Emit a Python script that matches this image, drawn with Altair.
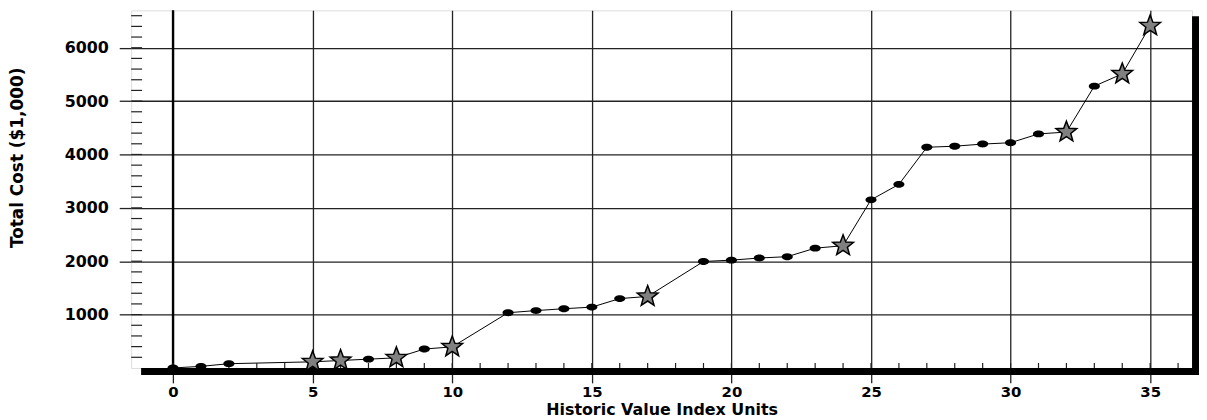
import altair as alt
import pandas as pd

# ---- data ----
x_units = [0, 1, 2, 5, 6, 7, 8, 9, 10, 12, 13, 14, 15, 16, 17, 19, 20, 21, 22, 23,
           24, 25, 26, 27, 28, 29, 30, 31, 32, 33, 34, 35]
total_cost = [0, 30, 80, 115, 140, 165, 190, 355, 395, 1035, 1075, 1110, 1140, 1300, 1340,
              1995, 2020, 2060, 2085, 2245, 2290, 3150, 3440, 4135, 4155, 4195, 4220, 4385,
              4420, 5280, 5510, 6410]
marker_kind = ["dot", "dot", "dot", "star", "star", "dot", "star", "dot", "star",
               "dot", "dot", "dot", "dot", "dot", "star",
               "dot", "dot", "dot", "dot", "dot", "star",
               "dot", "dot", "dot", "dot", "dot", "dot", "dot", "star", "dot", "star", "star"]

x_major_ticks = [0, 5, 10, 15, 20, 25, 30, 35]
x_minor_ticks = list(range(0, 37))
y_major_ticks = [1000, 2000, 3000, 4000, 5000, 6000]
y_minor_ticks = list(range(200, 6700, 200))

W, H = 1068, 360
FONT = "DejaVu Sans"

df = pd.DataFrame({"units": x_units, "cost": total_cost, "kind": marker_kind})
xminor_df = pd.DataFrame({"units": x_minor_ticks})
yminor_df = pd.DataFrame({"cost": y_minor_ticks})
zero_df = pd.DataFrame({"units": [0]})
one_df = pd.DataFrame({"a": [0]})

x_scale = alt.Scale(domain=[-1.5, 36.5], nice=False, zero=False)
y_scale = alt.Scale(domain=[0, 6700], nice=False, zero=False)

x_axis = alt.Axis(values=x_major_ticks, grid=True, gridColor="#222222", gridWidth=1.3,
                  domain=False, tickSize=15, tickColor="#222222", tickWidth=1.3,
                  labelFont=FONT, labelFontWeight="bold", labelFontSize=15,
                  labelColor="black", labelPadding=2, format="d",
                  title="Historic Value Index Units", titleFont=FONT,
                  titleFontWeight="bold", titleFontSize=16, titleColor="black",
                  titleY=42, titleBaseline="middle")
y_axis = alt.Axis(values=y_major_ticks, grid=True, gridColor="#222222", gridWidth=1.3,
                  domain=False, tickSize=12, tickColor="#222222", tickWidth=1.3,
                  labelFont=FONT, labelFontWeight="bold", labelFontSize=16,
                  labelColor="black", labelPadding=11, format="d",
                  title="Total Cost ($1,000)", titleFont=FONT,
                  titleFontWeight="bold", titleFontSize=17, titleColor="black",
                  titleX=-114, titleY=148, titleBaseline="middle", titleAlign="center")

X = alt.X("units:Q", scale=x_scale, axis=x_axis)
Y = alt.Y("cost:Q", scale=y_scale, axis=y_axis)

line = alt.Chart(df).mark_line(color="black", strokeWidth=1).encode(x=X, y=Y)

zero_rule = alt.Chart(zero_df).mark_rule(color="black", strokeWidth=2.4).encode(
    x=X, y=alt.value(0), y2=alt.value(H))

ellipse = "M-1,0A1,0.62 0 1 0 1,0A1,0.62 0 1 0 -1,0Z"
star = ("M0,-1L0.247,-0.34L0.951,-0.309L0.399,0.13L0.588,0.809L0,0.42"
        "L-0.588,0.809L-0.399,0.13L-0.951,-0.309L-0.247,-0.34Z")

dots = alt.Chart(df).transform_filter(alt.datum.kind == "dot").mark_point(
    shape=ellipse, filled=True, color="black", size=125, opacity=1).encode(x=X, y=Y)

stars = alt.Chart(df).transform_filter(alt.datum.kind == "star").mark_point(
    shape=star, filled=True, fill="#808080", stroke="black", strokeWidth=1.5,
    size=480, opacity=1).encode(x=X, y=Y)

xminor = alt.Chart(xminor_df).mark_rule(color="#222222", strokeWidth=1.2).encode(
    x=X, y=alt.value(H - 5), y2=alt.value(H))
yminor = alt.Chart(yminor_df).mark_rule(color="#222222", strokeWidth=1.2).encode(
    y=Y, x=alt.value(0), x2=alt.value(11))

shadow_bottom = alt.Chart(one_df).mark_rect(color="black").encode(
    x=alt.value(10), x2=alt.value(W + 7), y=alt.value(H), y2=alt.value(H + 7))
shadow_right = alt.Chart(one_df).mark_rect(color="black").encode(
    x=alt.value(W), x2=alt.value(W + 7), y=alt.value(6), y2=alt.value(H + 7))

chart = alt.layer(
    line, zero_rule, xminor, yminor, shadow_bottom, shadow_right, dots, stars
).properties(
    width=W, height=H,
    autosize=alt.AutoSizeParams(type="none"),
    padding={"left": 124, "top": 1, "right": 7, "bottom": 51},
).configure_view(
    stroke="#444444", strokeWidth=1.5
).configure(background="white")

chart.save("out.html", embed_options={"renderer": "svg", "actions": False})
